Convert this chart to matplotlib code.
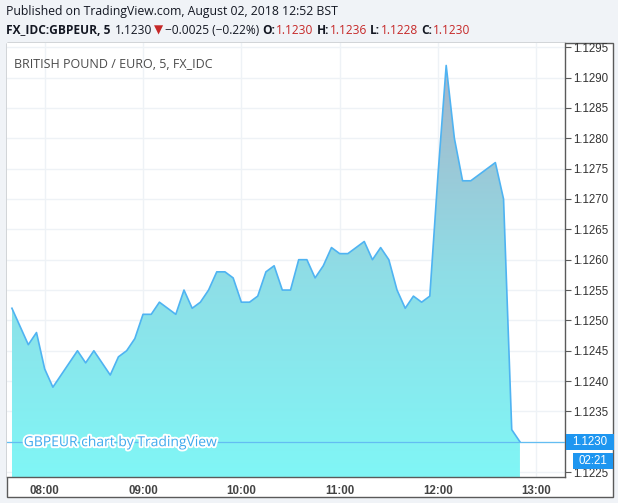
import numpy as np
import matplotlib
matplotlib.use('Agg')
import matplotlib.pyplot as plt
import matplotlib.patheffects as pe
from matplotlib.colors import LinearSegmentedColormap
from matplotlib.patches import Rectangle

# GBPEUR 5-minute closes, 07:40 .. 12:50
start_time = '07:40'
step_min = 5
closes = [1.1252, 1.1249, 1.1246, 1.1248, 1.1242, 1.1239, 1.1241, 1.1243, 1.1245, 1.1243,
          1.1245, 1.1243, 1.1241, 1.1244, 1.1245, 1.1247, 1.1251, 1.1251, 1.1253, 1.1252,
          1.1251, 1.1255, 1.1252, 1.1253, 1.1255, 1.1258, 1.1258, 1.1257, 1.1253, 1.1253,
          1.1254, 1.1258, 1.1259, 1.1255, 1.1255, 1.1260, 1.1260, 1.1257, 1.1259, 1.1262,
          1.1261, 1.1261, 1.1262, 1.1263, 1.1260, 1.1262, 1.1260, 1.1255, 1.1252, 1.1254,
          1.1253, 1.1254, 1.1274, 1.1292, 1.1280, 1.1273, 1.1273, 1.1274, 1.1275, 1.1276,
          1.1270, 1.1232, 1.1230]
hour_labels = ['08:00', '09:00', '10:00', '11:00', '12:00', '13:00']
price_ticks = [1.1225, 1.1230, 1.1235, 1.1240, 1.1245, 1.1250, 1.1255, 1.1260,
               1.1265, 1.1270, 1.1275, 1.1280, 1.1285, 1.1290, 1.1295]
last_price = 1.1230
countdown = '02:21'

h0, m0 = map(int, start_time.split(':'))
t = h0 * 60 + m0 + step_min * np.arange(len(closes))
y = np.array(closes)
hour_pos = [int(s[:2]) * 60 for s in hour_labels]

W, H = 618, 503
fig = plt.figure(figsize=(W / 100, H / 100), dpi=100)
fig.patch.set_facecolor('#f0f3f7')
plt.rcParams['font.family'] = ['Open Sans', 'DejaVu Sans']

# white chart panel with frame
fig.add_artist(Rectangle((7 / W, 1 - 497 / H), 606 / W, 454 / H, transform=fig.transFigure,
                         facecolor='white', edgecolor='#5a5a5a', lw=1.0, zorder=0))

ax = fig.add_axes([7 / W, 1 - 477 / H, 558 / W, 434 / H])
ax.set_facecolor('white')
ax.set_xlim(t[0] - 3, t[0] + 5 * 67.5)
ax.set_ylim(1.12242, 1.12957)

for s in ['top', 'left']:
    ax.spines[s].set_visible(False)
for s in ['right', 'bottom']:
    ax.spines[s].set_color('#5a5a5a')
    ax.spines[s].set_linewidth(1.0)

ax.yaxis.tick_right()
ax.set_yticks(price_ticks)
ax.set_yticklabels([f'{v:.4f}' for v in price_ticks], fontsize=8.3, color='#333333',
                   family=['Liberation Sans'])
ax.set_xticks(hour_pos)
ax.set_xticklabels(hour_labels, fontsize=8.3, color='#444444', family=['Liberation Sans'],
                   fontweight='bold')
ax.tick_params(axis='y', length=4, width=0.8, color='#5a5a5a', pad=2)
ax.tick_params(axis='x', length=0, pad=6)
ax.grid(True, color='#eef2f6', lw=1.0)
ax.set_axisbelow(True)

# gradient area
poly = ax.fill_between(t, y, 1.1200, facecolor='none', edgecolor='none')
cmap = LinearSegmentedColormap.from_list('tv', ['#80f6f6', '#8fdde6', '#a6b5c9'])
grad = np.linspace(0, 1, 256).reshape(-1, 1)
img = ax.imshow(grad, cmap=cmap, aspect='auto', origin='lower',
                extent=[t[0], t[-1], 1.12242, max(closes)], zorder=2)
img.set_clip_path(poly.get_paths()[0], transform=ax.transData)
ax.plot(t, y, color='#4fb3f2', lw=1.2, zorder=3)
ax.axhline(last_price, color='#63bdf2', lw=0.9, zorder=4)

ax.text(0.012, 0.965, 'BRITISH POUND / EURO, 5, FX_IDC', transform=ax.transAxes,
        fontsize=9, color='#4a4a4a', va='top', ha='left')
ax.text(0.03, 0.079, 'GBPEUR chart by TradingView', transform=ax.transAxes, fontsize=10,
        color='#3fa9ee', va='center', ha='left',
        path_effects=[pe.withStroke(linewidth=2.8, foreground='white')], zorder=5)

# price / countdown tags on the axis
yl = ax.get_ylim()
def ypix(v):
    return 477 - (v - yl[0]) / (yl[1] - yl[0]) * 434
yp = ypix(last_price)
fig.add_artist(Rectangle((566 / W, 1 - (yp + 8) / H), 48 / W, 16 / H, transform=fig.transFigure,
                         facecolor='#1e96f0', edgecolor='none', zorder=10))
fig.text(590 / W, 1 - yp / H, f'{last_price:.4f}', color='white', fontsize=8.3,
         family=['Liberation Sans'], ha='center', va='center', zorder=11)
fig.add_artist(Rectangle((573 / W, 1 - (yp + 27) / H), 40 / W, 16 / H, transform=fig.transFigure,
                         facecolor='#1e96f0', edgecolor='none', zorder=10))
fig.text(593 / W, 1 - (yp + 19) / H, countdown, color='white', fontsize=8.3,
         family=['Liberation Sans'], ha='center', va='center', zorder=11)

# header
fig.text(6 / W, 1 - 12 / H, 'Published on TradingView.com, August 02, 2018 12:52 BST',
         fontsize=8.8, color='#131722', va='center', ha='left')

renderer = fig.canvas.get_renderer()
parts = [('FX_IDC:GBPEUR, 5', '#131722', 'bold', 4),
         ('1.1230', '#131722', 'normal', 2),
         ('▼', '#c62828', 'normal', 2),
         ('−0.0025 (−0.22%)', '#131722', 'normal', 3),
         ('O:', '#131722', 'bold', 1),
         ('1.1230', '#c62828', 'normal', 3),
         ('H:', '#131722', 'bold', 1),
         ('1.1236', '#c62828', 'normal', 3),
         ('L:', '#131722', 'bold', 1),
         ('1.1228', '#c62828', 'normal', 3),
         ('C:', '#131722', 'bold', 1),
         ('1.1230', '#c62828', 'normal', 0)]
x = 6
for txt, col, wt, gap in parts:
    tt = fig.text(x / W, 1 - 30 / H, txt, fontsize=8.6, color=col, fontweight=wt,
                  va='center', ha='left')
    bb = tt.get_window_extent(renderer)
    x = bb.x1 + gap

fig.savefig('out.png', dpi=100, facecolor=fig.get_facecolor())
